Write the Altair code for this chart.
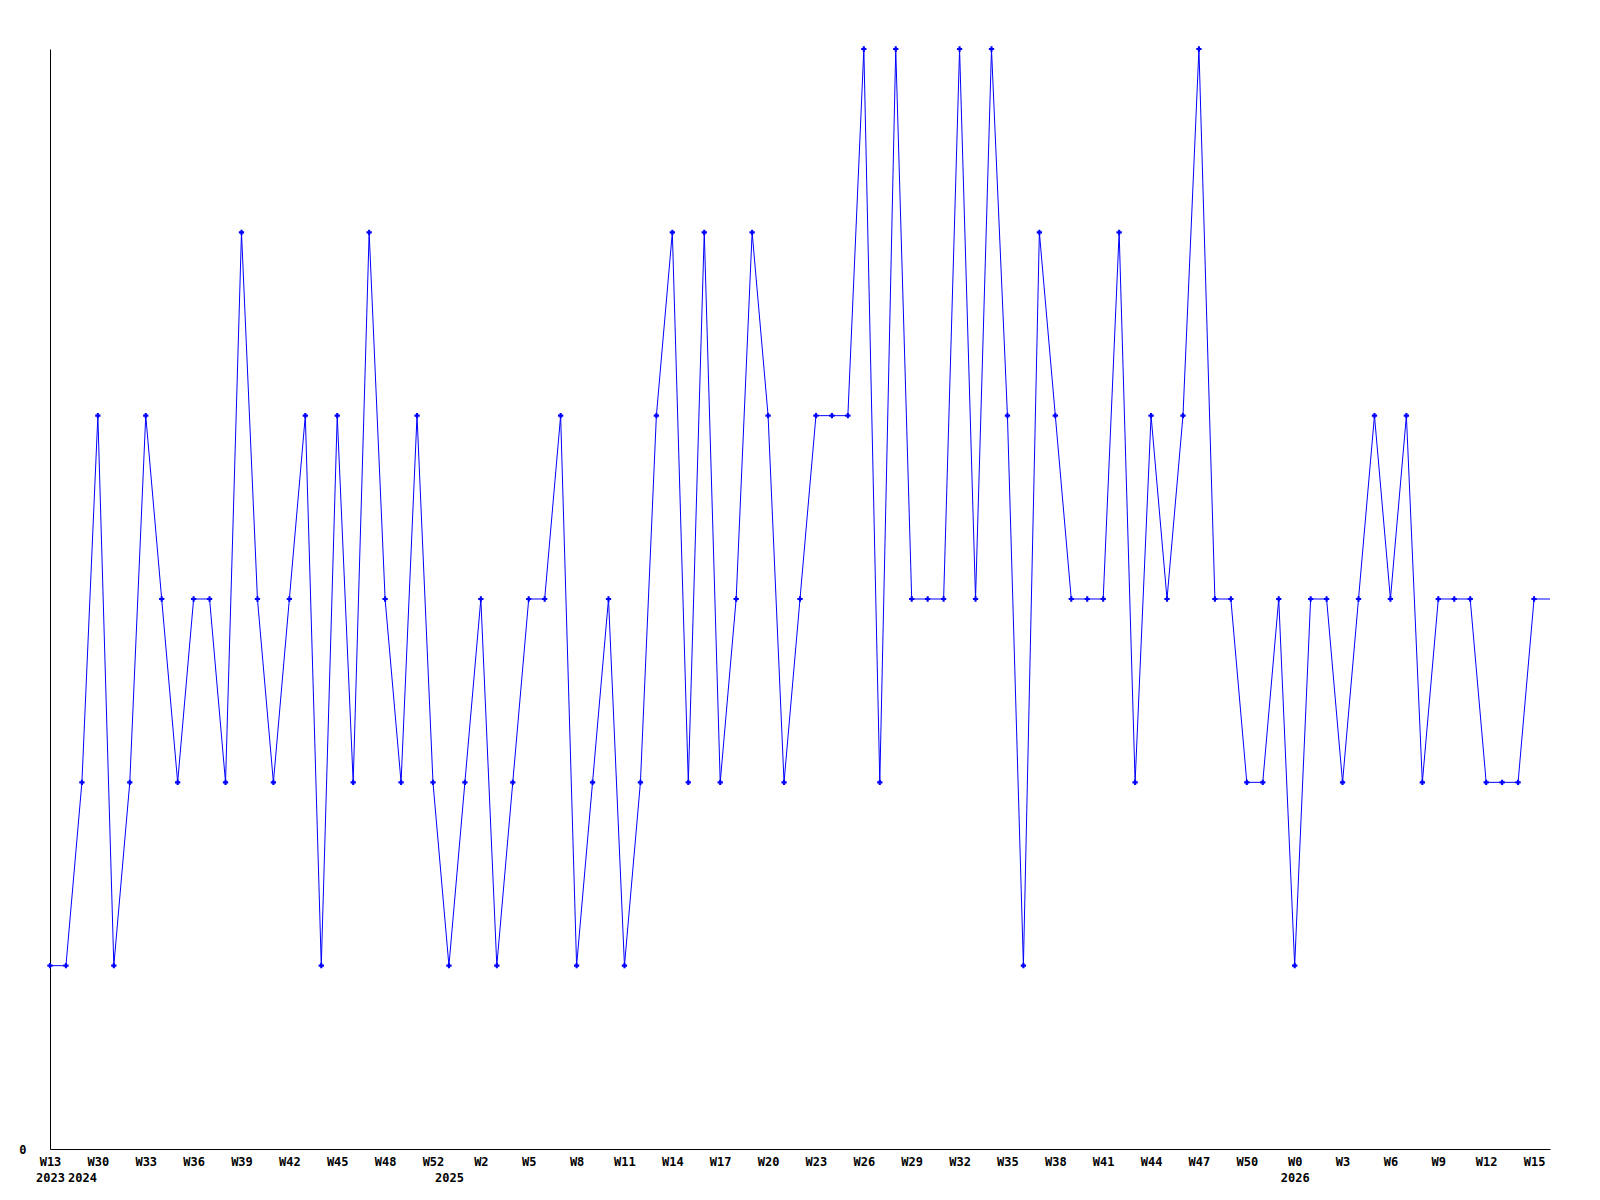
import altair as alt
import pandas as pd

values = [1, 1, 2, 4, 1, 2, 4, 3, 2, 3,
          3, 2, 5, 3, 2, 3, 4, 1, 4, 2,
          5, 3, 2, 4, 2, 1, 2, 3, 1, 2,
          3, 3, 4, 1, 2, 3, 1, 2, 4, 5,
          2, 5, 2, 3, 5, 4, 2, 3, 4, 4,
          4, 6, 2, 6, 3, 3, 3, 6, 3, 6,
          4, 1, 5, 4, 3, 3, 3, 5, 2, 4,
          3, 4, 6, 3, 3, 2, 2, 3, 1, 3,
          3, 2, 3, 4, 3, 4, 2, 3, 3, 3,
          2, 2, 2, 3, 3]

weeks = [13, 14, 29, 30, 31, 32, 33, 34, 35, 36,
         37, 38, 39, 40, 41, 42, 43, 44, 45, 46,
         47, 48, 49, 50, 52] + list(range(0, 53)) + list(range(0, 17))
years = [2023, 2023] + [2024] * 23 + [2025] * 53 + [2026] * 17

NB = "\u00a0"
keys = []
prev_year = None
for i, (w, y) in enumerate(zip(weeks, years)):
    week_label = f"W{w}".ljust(3, NB) if i % 3 == 0 else ""
    year_label = str(y) if y != prev_year else ""
    prev_year = y
    keys.append(f"{i:02d}|{week_label}|{year_label}")

df = pd.DataFrame({"key": keys, "idx": list(range(len(values))), "value": values})

FONT = "DejaVu Sans Mono"

x_enc = alt.X(
    "key:O",
    sort=None,
    scale=alt.Scale(type="point", padding=0),
    axis=alt.Axis(
        title=None,
        labelExpr="[split(datum.value, '|')[1], split(datum.value, '|')[2]]",
        labelAngle=0,
        labelAlign="center",
        labelBaseline="top",
        labelPadding=7,
        labelLineHeight=16,
        labelFont=FONT,
        labelFontSize=12,
        labelFontWeight="bold",
        labelColor="black",
        labelOverlap=False,
        ticks=False,
        domainColor="black",
        domainWidth=1,
        grid=False,
    ),
)

y_enc = alt.Y(
    "value:Q",
    scale=alt.Scale(domain=[0, 6], nice=False, zero=True),
    axis=alt.Axis(
        title=None,
        values=[0],
        grid=False,
        ticks=False,
        domainColor="black",
        domainWidth=1,
        labelPadding=24,
        labelFont=FONT,
        labelFontSize=12,
        labelFontWeight="bold",
        labelColor="black",
    ),
)

line = alt.Chart(df).mark_line(color="#0000ff", strokeWidth=1).encode(x=x_enc, y=y_enc)
pts = (
    alt.Chart(df)
    .transform_filter("datum.idx < 94")
    .mark_point(shape="cross", filled=True, size=28, color="#0000ff", opacity=1)
    .encode(x=x_enc, y=y_enc)
)

chart = (
    alt.layer(line, pts)
    .properties(
        width=1500,
        height=1100,
        autosize=alt.AutoSizeParams(type="none"),
        padding={"left": 42, "top": 41, "right": 42, "bottom": 50},
        background="white",
    )
    .configure_view(stroke=None)
)

chart.save("out.html", embed_options={"renderer": "svg", "actions": False})
